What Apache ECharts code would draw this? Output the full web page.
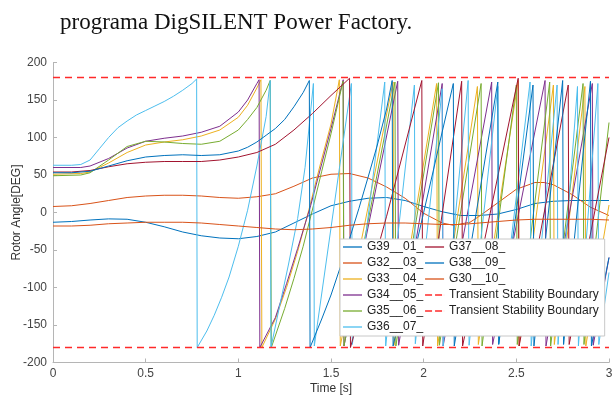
<!DOCTYPE html>
<html><head><meta charset="utf-8">
<script src="https://cdn.jsdelivr.net/npm/echarts@6/dist/echarts.min.js"></script>
<style>html,body{margin:0;padding:0;background:#fff}#c{width:612px;height:396px}</style>
</head><body><div id="c"></div><script>
const titleText = 'programa DigSILENT Power Factory.';
const names = ['G39__01_','G32__03_','G33__04_','G34__05_','G35__06_','G36__07_','G37__08_','G38__09_','G30__10_','Transient Stability Boundary','Transient Stability Boundary\u200b'];
const colors = ['#0072BD','#D95319','#EDB120','#7E2F8E','#77AC30','#4DBEEE','#A2142F','#0072BD','#D95319','#FF2A2A','#FF2A2A'];
const xTicks = [0,0.5,1,1.5,2,2.5,3];
const yTicks = [-200,-150,-100,-50,0,50,100,150,200];

const g39 = [[0,-13],[0.1,-12],[0.2,-10],[0.3,-8.5],[0.4,-9],[0.5,-13],[0.6,-19],[0.7,-26],[0.8,-31],[0.9,-34],[1.0,-35],[1.1,-32],[1.2,-26],[1.3,-14],[1.4,-2],[1.5,9],[1.6,15],[1.7,19],[1.8,20],[1.9,16],[2.0,8],[2.1,1],[2.2,-4],[2.3,-4],[2.4,-2],[2.5,4],[2.6,12],[2.7,15],[2.8,16],[2.9,16],[3.0,16]];
const g32 = [[0,8],[0.1,9],[0.2,12],[0.3,16],[0.4,20],[0.5,22],[0.6,23],[0.7,23],[0.8,22],[0.9,20],[1.0,19],[1.1,21],[1.2,25],[1.3,35],[1.4,46],[1.5,51],[1.6,52],[1.7,46],[1.8,34],[1.9,19],[2.0,-1],[2.1,-14],[2.16,-17],[2.25,-13],[2.3,-5],[2.4,13],[2.5,31],[2.6,40],[2.65,40],[2.7,37],[2.8,24],[2.9,7],[3.0,-4]];
const g33 = [[0,51],[0.15,52],[0.2,54],[0.3,66],[0.4,80],[0.5,90],[0.6,94],[0.7,97],[0.8,102],[0.9,110],[1.0,127],[1.05,143],[1.1,166],[1.122,177],
  [1.127,-180],[1.2,-142],[1.26,-100],[1.32,-52],[1.38,3],[1.44,62],[1.5,118],[1.545,177],
  [1.55,-178],[1.835,174],[1.84,-177],[2.07,172],[2.075,-178],[2.29,168],[2.295,-176],[2.51,176],
  [2.515,-178],[2.70,170],[2.705,-176],[2.87,168],[2.875,-178],[3.0,10]];
const g34 = [[0,60],[0.15,60],[0.2,62],[0.3,72],[0.4,86],[0.5,95],[0.6,99],[0.7,102],[0.8,107],[0.9,115],[1.0,134],[1.05,150],[1.1,172],[1.112,177],
  [1.116,-180],[1.2,-140],[1.26,-95],[1.32,-48],[1.39,9],[1.45,65],[1.5,112],[1.566,177],
  [1.57,-178],[1.86,175],[1.865,-177],[2.10,172],[2.105,-178],[2.367,174],[2.372,-176],[2.655,176],
  [2.66,-178],[2.91,172],[2.915,-177],[3.0,-60]];
const g35 = [[0,49],[0.15,50],[0.2,53],[0.3,70],[0.4,88],[0.5,95],[0.6,94],[0.7,92],[0.8,91],[0.9,95],[1.0,110],[1.05,124],[1.1,140],[1.15,163],[1.172,176],
  [1.178,-180],[1.25,-128],[1.3,-88],[1.35,-45],[1.405,9],[1.45,55],[1.5,105],[1.565,175],
  [1.57,-178],[1.845,174],[1.85,-178],[2.08,173],[2.085,-177],[2.31,172],[2.315,-178],[2.50,170],
  [2.505,-176],[2.68,174],[2.685,-178],[2.86,172],[2.865,-176],[3.0,120]];
const g36 = [[0,63],[0.1,63],[0.15,64],[0.2,70],[0.25,85],[0.3,100],[0.35,113],[0.4,122],[0.45,130],[0.5,136],[0.55,142],[0.6,148],[0.65,155],[0.7,163],[0.75,172],[0.775,178],
  [0.778,-180],[0.83,-158],[0.87,-137],[0.91,-113],[0.95,-86],[1.0,-45],[1.05,3],[1.1,62],[1.15,128],[1.172,176],
  [1.176,-180],[1.22,-128],[1.27,-70],[1.32,-8],[1.36,60],[1.405,172],
  [1.41,-178],[1.61,172],[1.615,-176],[1.79,174],[1.795,-178],[1.95,170],[1.955,-175],[2.10,165],
  [2.105,-178],[2.24,176],[2.245,-177],[2.40,168],[2.405,-175],[2.574,174],[2.58,-178],[2.72,170],
  [2.725,-176],[2.83,168],[2.835,-178],[2.94,172],[2.945,-176],[3.0,-80]];
const g37 = [[0,54],[0.1,54],[0.2,56],[0.3,61],[0.4,65],[0.5,67],[0.6,68],[0.7,68],[0.8,68],[0.9,70],[1.0,74],[1.1,80],[1.2,91],[1.3,110],[1.4,132],[1.5,156],[1.6,179],
  [1.605,-180],[1.8,-5],[1.99,176],[1.995,-178],[2.205,175],[2.21,-178],[2.51,179],
  [2.515,-178],[2.78,170],[2.785,-176],[3.0,100]];
const g38 = [[0,53],[0.1,53],[0.2,55],[0.3,62],[0.4,69],[0.5,74],[0.6,76],[0.7,77],[0.8,76],[0.9,77],[1.0,82],[1.05,87],[1.1,94],[1.15,103],[1.2,112],[1.25,124],[1.3,141],[1.35,160],[1.383,176],
  [1.387,-180],[1.45,-142],[1.5,-110],[1.55,-73],[1.6,-35],[1.65,5],[1.7,47],[1.75,90],[1.8,138],[1.83,176],
  [1.835,-178],[2.0,0],[2.16,172],[2.165,-178],[2.40,174],[2.405,-176],[2.59,170],
  [2.595,-178],[2.75,176],[2.755,-176],[2.90,175],[2.905,-178],[3.0,-60]];
const g30 = [[0,-18],[0.1,-18],[0.2,-17],[0.3,-15],[0.4,-14],[0.5,-13],[0.6,-13],[0.7,-13],[0.8,-14],[0.9,-16],[1.0,-18],[1.1,-20],[1.2,-22],[1.3,-23],[1.4,-22],[1.5,-20],[1.6,-17],[1.7,-15],[1.8,-14],[1.9,-14],[2.0,-15],[2.1,-16],[2.2,-16],[2.3,-14],[2.4,-12],[2.5,-10],[2.6,-9],[2.7,-9],[2.8,-9],[2.9,-9],[3.0,-10]];
const boundaryTop = [[0,180],[3,180]];
const boundaryBottom = [[0,-180],[3,-180]];

const datasets = [g39,g32,g33,g34,g35,g36,g37,g38,g30,boundaryTop,boundaryBottom];

const series = datasets.map((d,i)=>{
  const dashed = i >= 9;
  return {
    name: names[i], type:'line', data:d, showSymbol:false, symbol:'none',
    animation:false, silent:true, z: dashed ? 3 : 2,
    lineStyle:{color:colors[i], width: dashed ? 1.6 : 1, type: dashed ? [7,5] : 'solid'},
    itemStyle:{color:colors[i]}
  };
});

const solidIcon = 'path://M0,0h19v1.3h-19z';
const dashIcon = 'path://M0,0h7v1.6h-7z M10,0h7v1.6h-7z M18.9,0h0.1v1.6h-0.1z';
const legendData = names.map((n,i)=>({name:n, icon: i>=9 ? dashIcon : solidIcon, itemStyle:{color:colors[i]}}));

const chart = echarts.init(document.getElementById('c'), null, {renderer:'canvas'});
const font = 'Liberation Sans, Arial, sans-serif';
chart.setOption({
  animation:false,
  backgroundColor:'#fff',
  grid:{left:53, right:3, top:62.5, bottom:33.5, containLabel:false, outerBoundsMode:'none'},
  xAxis:{type:'value', min:xTicks[0], max:xTicks[xTicks.length-1], interval:0.5,
    name:'Time [s]', nameLocation:'middle', nameGap:20, nameMoveOverlap:false,
    nameTextStyle:{fontSize:12, color:'#333', fontFamily:font},
    axisLine:{onZero:false, lineStyle:{color:'#b5b5b5', width:1}},
    axisTick:{inside:true, length:4, lineStyle:{color:'#b5b5b5'}},
    axisLabel:{fontSize:12, color:'#444', fontFamily:font, margin:5},
    splitLine:{show:false}},
  yAxis:{type:'value', min:yTicks[0], max:yTicks[yTicks.length-1], interval:50,
    name:'Rotor Angle[DEG]', nameLocation:'middle', nameGap:30, nameMoveOverlap:false,
    nameTextStyle:{fontSize:12, color:'#333', fontFamily:font},
    axisLine:{show:true, onZero:false, lineStyle:{color:'#b5b5b5', width:1}},
    axisTick:{show:true, inside:true, length:4, lineStyle:{color:'#b5b5b5'}},
    axisLabel:{fontSize:12, color:'#444', fontFamily:font, margin:6},
    splitLine:{show:false}},
  legend:{
    data:legendData, orient:'vertical', left:340, top:239, height:100,
    itemWidth:19, itemHeight:14, itemGap:2, symbolKeepAspect:true,
    padding:[1,6,2,3],
    backgroundColor:'#fff', borderColor:'#c8c8c8', borderWidth:1,
    textStyle:{fontSize:12, color:'#222', fontFamily:font, lineHeight:14},
    selectedMode:false
  },
  graphic:[{type:'text', left:60, top:11, style:{text:titleText, font:'23px "Liberation Serif", "Times New Roman", serif', fill:'#111'}}],
  series: series
});
</script></body></html>
